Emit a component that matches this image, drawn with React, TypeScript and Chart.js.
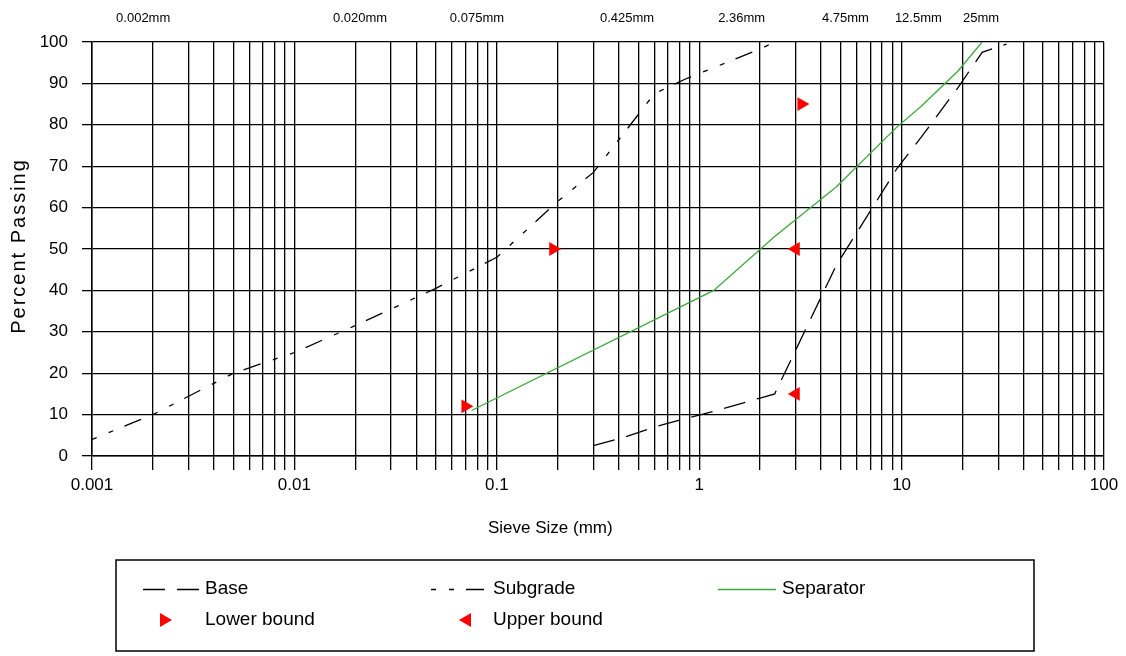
import React, { useEffect, useRef } from "react";
import { Chart, registerables } from "chart.js";

Chart.register(...registerables);

const FONT = "'Liberation Sans', Arial, Helvetica, sans-serif";

// ---- Data (sieve size in mm, percent passing) ----
const baseSizes = [0.3, 0.425, 0.6, 0.85, 1.18, 2.0, 2.36, 4.75, 9.5, 12.5, 19, 25, 33];
const basePassing = [2.5, 4.5, 7, 9, 10.8, 14, 15, 46, 69.5, 77, 89, 97.5, 99.5];

const subgradeSizes = [0.001, 0.002, 0.005, 0.01, 0.02, 0.05, 0.1, 0.2, 0.3, 0.425, 0.6, 0.85, 1.18, 2.0, 2.36];
const subgradePassing = [4, 10, 20, 25, 31.5, 40.5, 48, 61.5, 68.5, 78, 87.5, 91, 93.8, 98.3, 100];

const separatorSizes = [0.075, 1.18, 2.36, 4.75, 9.5, 12.5, 19, 25];
const separatorPassing = [11, 40, 53, 65, 79.5, 84.5, 93, 100];

const lowerBoundSizes = [0.07, 0.19, 3.2];
const lowerBoundPassing = [12, 50, 85];

const upperBoundSizes = [3, 3];
const upperBoundPassing = [15, 50];

const seriesNames = ["Base", "Subgrade", "Separator", "Lower bound", "Upper bound"];

const xTickLabels = ["0.001", "0.01", "0.1", "1", "10", "100"];
const xMin = 0.001;
const xMax = 100;
const yMin = 0;
const yMax = 100;
const yStep = 10;

const sieveLabels = ["0.002mm", "0.020mm", "0.075mm", "0.425mm", "2.36mm", "4.75mm", "12.5mm", "25mm"];
const sieveLabelAt = [0.00179, 0.0211, 0.0798, 0.44, 1.62, 5.28, 12.1, 24.7];

const xTitle = "Sieve Size (mm)";
const yTitle = "Percent Passing";

const GREEN = "#3ca83c";
const RED = "#ff0000";

const toPoints = (xs: number[], ys: number[]) => xs.map((x, i) => ({ x, y: ys[i] }));

function triangle(ctx: CanvasRenderingContext2D, cx: number, cy: number, r: number, dir: number) {
  ctx.beginPath();
  ctx.moveTo(cx + dir * r, cy);
  ctx.lineTo(cx - dir * r / 2, cy - 0.866 * r);
  ctx.lineTo(cx - dir * r / 2, cy + 0.866 * r);
  ctx.closePath();
  ctx.fill();
}

const overlayPlugin = {
  id: "overlay",
  afterDraw(chart: any) {
    const ctx: any = chart.ctx;
    const xs = chart.scales.x;
    ctx.save();
    ctx.fillStyle = "#000";

    // top sieve labels
    ctx.font = `13px ${FONT}`;
    ctx.textAlign = "center";
    ctx.textBaseline = "middle";
    sieveLabels.forEach((t, i) => {
      ctx.fillText(t, xs.getPixelForValue(sieveLabelAt[i]), 18);
    });

    // axis titles
    ctx.font = `17px ${FONT}`;
    ctx.textAlign = "left";
    ctx.fillText(xTitle, 488, 528);
    ctx.save();
    ctx.translate(19, 247);
    ctx.rotate(-Math.PI / 2);
    ctx.font = `20px ${FONT}`;
    ctx.textAlign = "center";
    ctx.letterSpacing = "2px";
    ctx.fillText(yTitle, 1, 0);
    ctx.restore();

    // legend box
    ctx.strokeStyle = "#000";
    ctx.lineWidth = 1.5;
    ctx.strokeRect(116, 560, 918, 91);

    const ds = chart.data.datasets;
    const lines = [
      { i: 0, sx: 143, ex: 200, tx: 205, y: 589 },
      { i: 1, sx: 431, ex: 485, tx: 493, y: 589 },
      { i: 2, sx: 718, ex: 776, tx: 782, y: 589 },
    ];
    ctx.font = `19px ${FONT}`;
    ctx.textAlign = "left";
    ctx.textBaseline = "middle";
    lines.forEach((l) => {
      const d = ds[l.i];
      ctx.save();
      ctx.strokeStyle = d.borderColor;
      ctx.lineWidth = d.borderWidth;
      ctx.setLineDash(d.borderDash || []);
      ctx.beginPath();
      ctx.moveTo(l.sx, l.y + 0.5);
      ctx.lineTo(l.ex, l.y + 0.5);
      ctx.stroke();
      ctx.restore();
      ctx.fillStyle = "#000";
      ctx.fillText(d.label, l.tx, l.y);
    });
    const marks = [
      { i: 3, mx: 164, tx: 205, y: 620, dir: 1 },
      { i: 4, mx: 467, tx: 493, y: 620, dir: -1 },
    ];
    marks.forEach((m) => {
      const d = ds[m.i];
      ctx.fillStyle = d.backgroundColor;
      triangle(ctx, m.mx, m.y, d.pointRadius, m.dir);
      ctx.fillStyle = "#000";
      ctx.fillText(d.label, m.tx, m.y);
    });
    ctx.restore();
  },
};

export default function App() {
  const ref = useRef<HTMLCanvasElement>(null);
  useEffect(() => {
    document.body.style.margin = "0";
    const chart = new Chart(ref.current as HTMLCanvasElement, {
      type: "scatter",
      data: {
        datasets: [
          {
            label: seriesNames[0],
            data: toPoints(baseSizes, basePassing),
            showLine: true,
            borderColor: "#000",
            borderWidth: 1.3,
            borderDash: [22, 12],
            pointRadius: 0,
            fill: false,
          },
          {
            label: seriesNames[1],
            data: toPoints(subgradeSizes, subgradePassing),
            showLine: true,
            borderColor: "#000",
            borderWidth: 1.3,
            borderDash: [5, 13, 5, 12, 18, 13],
            pointRadius: 0,
            fill: false,
          },
          {
            label: seriesNames[2],
            data: toPoints(separatorSizes, separatorPassing),
            showLine: true,
            borderColor: GREEN,
            borderWidth: 1.3,
            pointRadius: 0,
            fill: false,
          },
          {
            label: seriesNames[3],
            data: toPoints(lowerBoundSizes, lowerBoundPassing),
            showLine: false,
            pointStyle: "triangle",
            rotation: 90,
            pointRadius: 8,
            backgroundColor: RED,
            borderColor: RED,
            borderWidth: 0,
          },
          {
            label: seriesNames[4],
            data: toPoints(upperBoundSizes, upperBoundPassing),
            showLine: false,
            pointStyle: "triangle",
            rotation: -90,
            pointRadius: 8,
            backgroundColor: RED,
            borderColor: RED,
            borderWidth: 0,
          },
        ] as any,
      },
      options: {
        animation: false,
        responsive: false,
        events: [],
        layout: { padding: { top: 42, right: 22, left: 0, bottom: 108 } },
        plugins: {
          legend: { display: false },
          tooltip: { enabled: false },
        },
        scales: {
          x: {
            type: "logarithmic",
            min: xMin,
            max: xMax,
            afterBuildTicks: (scale: any) => {
              const ticks: { value: number }[] = [];
              for (let e = Math.log10(xMin); e < Math.log10(xMax); e++) {
                for (let m = 1; m < 10; m++) ticks.push({ value: m * Math.pow(10, e) });
              }
              ticks.push({ value: xMax });
              scale.ticks = ticks;
            },
            afterFit: (scale: any) => {
              scale.height = 92;
            },
            grid: { color: "#000", lineWidth: 1.3, tickLength: 14, tickColor: "#000", drawTicks: true },
            border: { color: "#000", width: 1.5 },
            ticks: {
              autoSkip: false,
              maxRotation: 0,
              minRotation: 0,
              padding: 5,
              color: "#000",
              font: { family: FONT, size: 17 },
              callback: (value: any) => {
                const lg = Math.log10(Number(value));
                if (Math.abs(lg - Math.round(lg)) < 1e-6) return xTickLabels[Math.round(lg) + 3];
                return "";
              },
            },
          },
          y: {
            type: "linear",
            min: yMin,
            max: yMax,
            afterFit: (scale: any) => {
              scale.width = 92;
            },
            grid: { color: "#000", lineWidth: 1.3, tickLength: 10, tickColor: "#000" },
            border: { color: "#000", width: 1.5 },
            ticks: {
              stepSize: yStep,
              padding: 14,
              color: "#000",
              font: { family: FONT, size: 17 },
            },
          },
        },
      } as any,
      plugins: [overlayPlugin],
    });
    return () => chart.destroy();
  }, []);
  return (
    <div style={{ position: "absolute", left: 0, top: 0, width: 1126, height: 656, background: "#fff" }}>
      <canvas ref={ref} width={1126} height={656} style={{ display: "block", width: 1126, height: 656 }} />
    </div>
  );
}
